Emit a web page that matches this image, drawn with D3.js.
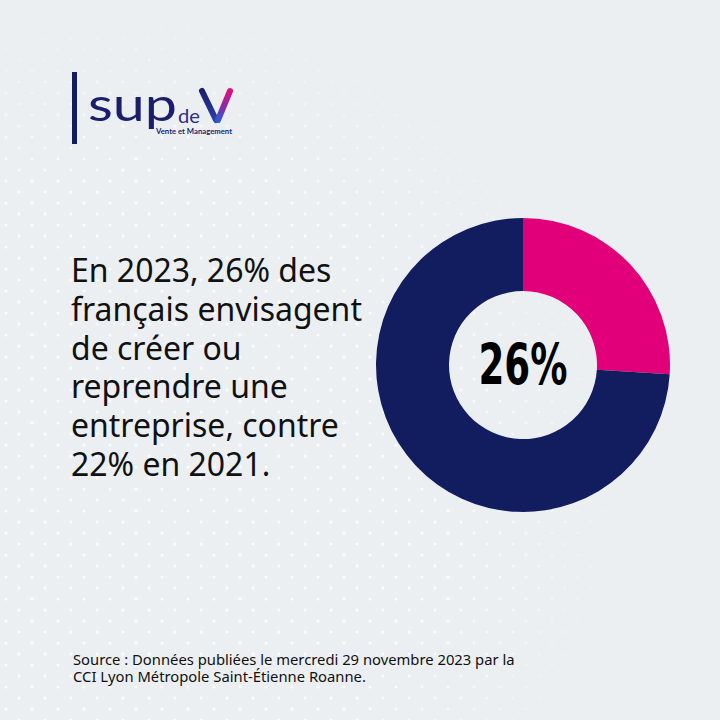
<!DOCTYPE html>
<html><head><meta charset="utf-8">
<script src="https://cdn.jsdelivr.net/npm/d3@7"></script>
<style>html,body{margin:0;padding:0;background:#eceff2;}svg{display:block;}</style>
</head><body><div id="chart"></div>
<script>
// ---- data ----
const categories = ["Envisagent de créer ou reprendre", "Autres"];
const values = [26, 74];
const centerLabel = "26%";
const headlineLines = ["En 2023, 26% des", "français envisagent", "de créer ou", "reprendre une", "entreprise, contre", "22% en 2021."];
const sourceLines = ["Source : Données publiées le mercredi 29 novembre 2023 par la", "CCI Lyon Métropole Saint-Étienne Roanne."];
const colors = ["#e2007a", "#111d5e"];

const W = 720, H = 720;
const svg = d3.select("#chart").append("svg").attr("width", W).attr("height", H);
const defs = svg.append("defs");

// background
svg.append("rect").attr("width", W).attr("height", H).attr("fill", "#eceff2");
const pat = defs.append("pattern").attr("id", "dots").attr("patternUnits", "userSpaceOnUse")
  .attr("width", 26).attr("height", 22);
pat.append("circle").attr("cx", 6).attr("cy", 5).attr("r", 1.5).attr("fill", "#ffffff");
pat.append("circle").attr("cx", 19).attr("cy", 16).attr("r", 1.5).attr("fill", "#ffffff");
const rg = defs.append("radialGradient").attr("id", "fade").attr("gradientUnits", "userSpaceOnUse")
  .attr("cx", 150).attr("cy", 480).attr("r", 490);
rg.append("stop").attr("offset", 0).attr("stop-color", "#fff").attr("stop-opacity", 0.75);
rg.append("stop").attr("offset", 0.6).attr("stop-color", "#fff").attr("stop-opacity", 0.85);
rg.append("stop").attr("offset", 1).attr("stop-color", "#fff").attr("stop-opacity", 0);
defs.append("mask").attr("id", "m").append("rect").attr("width", W).attr("height", H).attr("fill", "url(#fade)");
svg.append("rect").attr("width", W).attr("height", H).attr("fill", "url(#dots)").attr("mask", "url(#m)");

// logo
const logo = svg.append("g");
logo.append("rect").attr("x", 72).attr("y", 72).attr("width", 5).attr("height", 72).attr("fill", "#111d5e");
logo.append("text").attr("x", 88).attr("y", 121).attr("font-family", "Lato").attr("font-size", 46)
  .attr("fill", "#1b1f6b").attr("textLength", 89).attr("lengthAdjust", "spacingAndGlyphs").text("sup");
logo.append("text").attr("x", 178).attr("y", 123).attr("font-family", "Lato").attr("font-size", 19)
  .attr("fill", "#2f2a8a").attr("textLength", 22).attr("lengthAdjust", "spacingAndGlyphs").text("de");
const vg = defs.append("linearGradient").attr("id", "vg").attr("x1", 0).attr("y1", 0).attr("x2", 0).attr("y2", 1);
vg.append("stop").attr("offset", 0).attr("stop-color", "#e0107a");
vg.append("stop").attr("offset", 0.55).attr("stop-color", "#8a2aa6");
vg.append("stop").attr("offset", 1).attr("stop-color", "#2f5ad0");
const vl = defs.append("linearGradient").attr("id", "vl").attr("x1", 0).attr("y1", 0).attr("x2", 0).attr("y2", 1);
vl.append("stop").attr("offset", 0).attr("stop-color", "#1b1f6b");
vl.append("stop").attr("offset", 1).attr("stop-color", "#2a3fa8");
logo.append("line").attr("x1", 202).attr("y1", 91).attr("x2", 216).attr("y2", 120)
  .attr("stroke", "url(#vl)").attr("stroke-width", 6).attr("stroke-linecap", "round");
logo.append("path").attr("d", "M230,91 L218,120").attr("stroke", "url(#vg)").attr("stroke-width", 6)
  .attr("stroke-linecap", "round").attr("fill", "none");
logo.append("text").attr("x", 156).attr("y", 134).attr("font-family", "Lato").attr("font-weight", 700)
  .attr("font-size", 7.5).attr("fill", "#1b1f6b").attr("textLength", 76).attr("lengthAdjust", "spacingAndGlyphs")
  .text("Vente et Management");

// headline
const head = svg.append("g").attr("font-family", "'Noto Sans'").attr("fill", "#111");
const hl = head.selectAll("text").data(headlineLines).join("text")
  .attr("x", 71).attr("y", (d, i) => 282 + i * 38.8).attr("font-size", 28).text(d => d);
const w2 = hl.nodes()[1].getComputedTextLength();
hl.attr("font-size", 28 * 291 / w2);

// source
const src = svg.append("g").attr("font-family", "'Noto Sans'").attr("fill", "#111");
const sl = src.selectAll("text").data(sourceLines).join("text")
  .attr("x", 73).attr("y", (d, i) => 665 + i * 16.5).attr("font-size", 14).text(d => d);
const ws = sl.nodes()[0].getComputedTextLength();
sl.attr("font-size", 14 * 442 / ws);

// donut
const cx = 523, cy = 365, rOuter = 147, rInner = 74;
const pie = d3.pie().sort(null).value(d => d);
const arc = d3.arc().innerRadius(rInner).outerRadius(rOuter);
const dg = svg.append("g").attr("transform", `translate(${cx},${cy})`);
dg.selectAll("path").data(pie(values)).join("path")
  .attr("d", arc).attr("fill", (d, i) => colors[i]);
dg.append("text").attr("text-anchor", "middle").attr("y", 20)
  .attr("font-family", "'DejaVu Sans'").attr("font-weight", 700).attr("font-size", 57)
  .attr("fill", "#000").attr("textLength", 89).attr("lengthAdjust", "spacingAndGlyphs").text(centerLabel);
</script></body></html>
